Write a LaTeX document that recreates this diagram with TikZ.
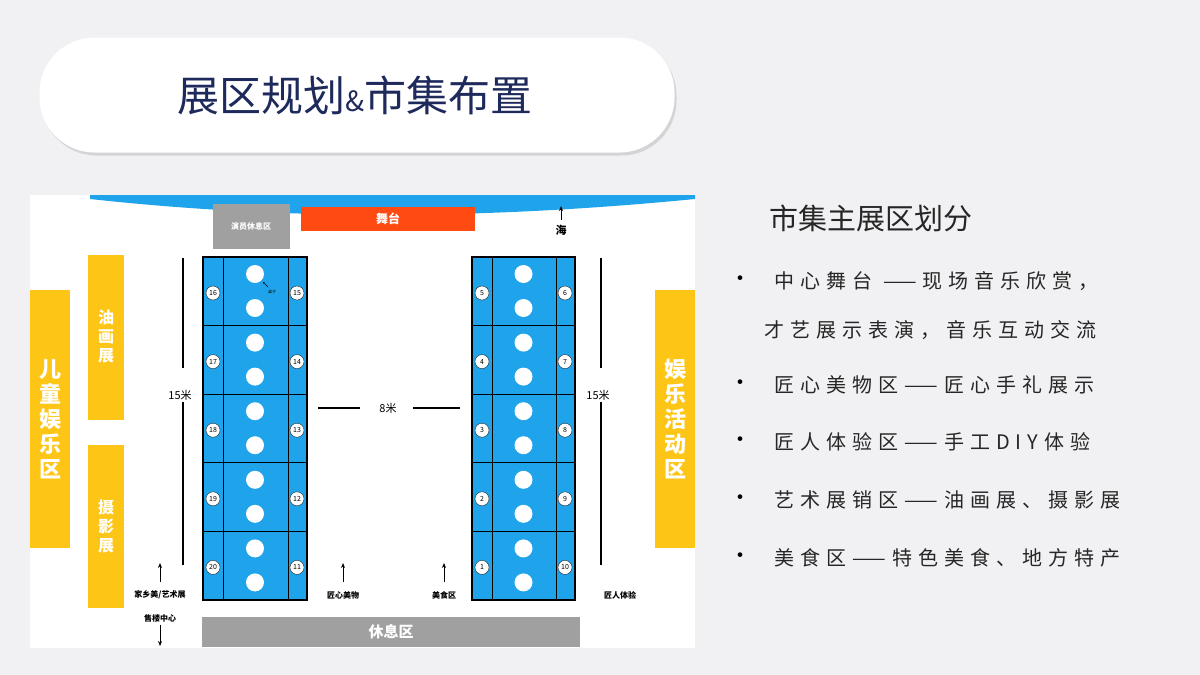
\documentclass[tikz,border=0pt]{standalone}
\usepackage{fontspec}
\setmainfont{Noto Sans CJK SC}
\newfontfamily\cjk{Noto Sans CJK SC}
\newfontfamily\cjkw[LetterSpace=30]{Noto Sans CJK SC}
\usetikzlibrary{shadows,arrows.meta}
\definecolor{bg}{HTML}{F1F1F3}
\definecolor{navy}{HTML}{1F2A5C}
\definecolor{sky}{HTML}{1FA3EA}
\definecolor{yel}{HTML}{FDC515}
\definecolor{org}{HTML}{FF4A12}
\definecolor{gry}{HTML}{A0A0A0}
\begin{document}
\begin{tikzpicture}[x=1pt,y=-1pt,
 ybar/.style={fill=yel,draw=none,text=white,font=\cjk\fontsize{22}{25}\selectfont\bfseries,align=center,inner sep=0},
 lbl/.style={font=\cjk\fontsize{8}{9}\selectfont\bfseries},
 num/.style={circle,fill=white,draw=black,line width=0.3pt,inner sep=0,minimum size=14pt,font=\fontsize{7}{8}\selectfont},
 dot/.style={circle,fill=white,inner sep=0,minimum size=18pt},
 btxt/.style={anchor=west,font=\cjkw\fontsize{20}{22}\selectfont,text=black!85},
 arr/.style={-{Stealth[length=5pt,width=4pt]},line width=1pt}]
\useasboundingbox (0,0) rectangle (1200,675);
\fill[bg] (0,0) rectangle (1200,675);
% title pill
\node[draw=none,fill=white,rounded corners=55pt,minimum width=635pt,minimum height=115pt,drop shadow={opacity=0.25,shadow xshift=2pt,shadow yshift=-3pt}] (title) at (357,95) {};
\node[font=\cjk\fontsize{42}{44}\selectfont,text=navy] (tt) at (355,95) {展区规划{\fontsize{28}{30}\selectfont\&}市集布置};
% map panel
\fill[white] (30,195) rectangle (695,648);
\fill[sky] (90,195) -- (695,195) -- (695,199) .. controls (500,218) and (300,222) .. (90,199) -- cycle;
\node[fill=gry,minimum width=77pt,minimum height=45pt,text=white,font=\cjk\fontsize{8}{9}\selectfont\bfseries] (rest1) at (251,226) {演员休息区};
\node[fill=org,minimum width=174pt,minimum height=24pt,text=white,font=\cjk\fontsize{12}{13}\selectfont\bfseries] (stage) at (388,219) {舞台};
\coordinate (seaA) at (561,220); \coordinate (seaB) at (561,206);
\draw[arr] (seaA) -- (seaB);
\node[lbl,font=\cjk\fontsize{11}{12}\selectfont\bfseries] (sea) at (561,230) {海};
% booths
\foreach \xl/\xr/\ln/\rn in {203/307/{16,17,18,19,20}/{15,14,13,12,11},472/575/{5,4,3,2,1}/{6,7,8,9,10}}{
 \fill[sky] (\xl,257) rectangle (\xr,600);
 \draw[line width=1.2pt] (\xl,257) rectangle (\xr,600);
 \draw[line width=0.8pt] (\xl+20,257) -- (\xl+20,600) (\xr-19,257) -- (\xr-19,600);
 \foreach \i in {1,2,3,4}{\draw[line width=1.2pt] (\xl,257+68.6*\i) -- (\xr,257+68.6*\i);}
 \foreach \i in {0,...,4}{
  \node[dot] at ({(\xl+\xr)/2},{257+68.6*\i+17}) {};
  \node[dot] at ({(\xl+\xr)/2},{257+68.6*\i+51}) {};}
 \foreach \n [count=\i from 0] in \ln {\node[num] at (\xl+10,{257+68.6*\i+36}) {\n};}
 \foreach \n [count=\i from 0] in \rn {\node[num] at (\xr-10,{257+68.6*\i+36}) {\n};}
}
\node[font=\cjk\fontsize{4}{5}\selectfont] (desk) at (272,292) {桌子};
\draw[-{Stealth[length=2pt]},line width=0.5pt] (268,287) -- (263,282);
% dimension lines
\foreach \x in {183,601}{\draw[line width=1.2pt] (\x,258) -- (\x,368) (\x,402) -- (\x,565);}
\node[font=\cjk\fontsize{11}{12}\selectfont] (d1) at (180,395) {15米};
\node[font=\cjk\fontsize{11}{12}\selectfont] (d2) at (598,395) {15米};
\node[font=\cjk\fontsize{11}{12}\selectfont] (d3) at (388,408) {8米};
\draw[line width=1.2pt] (318,408) -- (360,408) (413,408) -- (460,408);
% yellow bars
\node[ybar,minimum width=40pt,minimum height=258pt] (kid) at (50,419) {儿\\童\\娱\\乐\\区};
\node[ybar,minimum width=36pt,minimum height=165pt,font=\cjk\fontsize{16}{19}\selectfont\bfseries] (oil) at (106,337) {油\\画\\展};
\node[ybar,minimum width=36pt,minimum height=163pt,font=\cjk\fontsize{16}{19}\selectfont\bfseries] (photo) at (106,526) {摄\\影\\展};
\node[ybar,minimum width=40pt,minimum height=258pt] (fun) at (675,419) {娱\\乐\\活\\动\\区};
% bottom labels
\node[lbl] (a) at (160,595) {家乡美/艺术展};
\node[lbl] (b) at (343,595) {匠心美物};
\node[lbl] (c) at (444,595) {美食区};
\foreach \x in {160,343,444}{\draw[arr] (\x,582) -- (\x,563);}
\node[lbl] (d) at (620,595) {匠人体验};
\node[lbl] (sale) at (160,618) {售楼中心};
\draw[arr] (sale.south) -- (160,646);
\node[fill=gry,minimum width=378pt,minimum height=30pt,text=white,font=\cjk\fontsize{15}{16}\selectfont\bfseries] (rest2) at (391,632) {休息区};
% right text
\node[anchor=west,font=\cjk\fontsize{29}{30}\selectfont,text=black!85] (h) at (766,218) {市集主展区划分};
\foreach \y/\t/\b in {281/{中心舞台 ——现场音乐欣赏，}/1,330/{才艺展示表演，音乐互动交流}/0,385/{匠心美物区——匠心手礼展示}/1,442/{匠人体验区——手工DIY体验}/1,500/{艺术展销区——油画展、摄影展}/1,558/{美食区——特色美食、地方特产}/1}{
 \node[btxt] at ({\b==1 ? 771 : 761},\y) {\t};
 \ifnum\b=1 \node[font=\fontsize{22}{22}\selectfont] at (740,\y) {•};\fi}
\end{tikzpicture}
\end{document}
